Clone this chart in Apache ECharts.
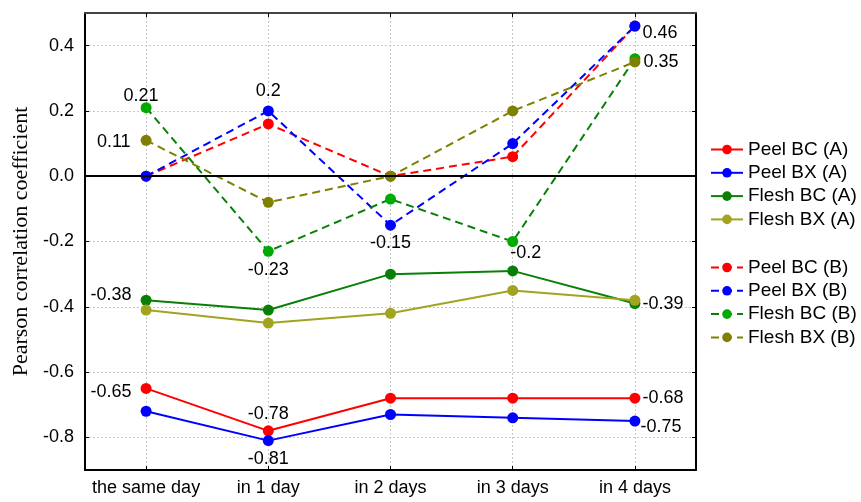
<!DOCTYPE html>
<html>
<head>
<meta charset="utf-8">
<script src="https://cdn.jsdelivr.net/npm/echarts@6/dist/echarts.min.js"></script>
<style>
html, body { margin: 0; padding: 0; background: #fff; }
#chart { width: 861px; height: 502px; }
</style>
</head>
<body>
<div id="chart"></div>
<script>
// Categories and tick values
const days = ['the same day', 'in 1 day', 'in 2 days', 'in 3 days', 'in 4 days'];
const yTicks = [-0.8, -0.6, -0.4, -0.2, 0, 0.2, 0.4];

// Group A (solid lines)
const peelBcA = [-0.65, -0.78, -0.68, -0.68, -0.68];
const peelBxA = [-0.72, -0.81, -0.73, -0.74, -0.75];
const fleshBcA = [-0.38, -0.41, -0.30, -0.29, -0.39];
const fleshBxA = [-0.41, -0.45, -0.42, -0.35, -0.38];

// Group B (dashed lines)
const peelBcB = [0.00, 0.16, 0.00, 0.06, 0.46];
const peelBxB = [0.00, 0.20, -0.15, 0.10, 0.46];
const fleshBcB = [0.21, -0.23, -0.07, -0.20, 0.36];
const fleshBxB = [0.11, -0.08, 0.00, 0.20, 0.35];

const FONT = "'Liberation Sans', Arial, sans-serif";

// Which points carry a value label, and where the label sits
const labelSpots = {
  'Peel BC (A)': { 0: { position: 'left', distance: 9, offset: [0, 4] }, 1: { position: 'top', distance: 2 }, 4: { position: 'right', distance: 2 } },
  'Peel BX (A)': { 1: { position: 'bottom', distance: 4 }, 4: { position: 'right', distance: 0, offset: [0, 6] } },
  'Flesh BC (A)': { 0: { position: 'left', distance: 9, offset: [0, -5] }, 4: { position: 'right', distance: 2, offset: [0, 1] } },
  'Flesh BX (A)': {},
  'Peel BC (B)': {},
  'Peel BX (B)': { 1: { position: 'top', distance: 5 }, 2: { position: 'bottom', distance: 3 }, 4: { position: 'right', distance: 2, offset: [0, 7] } },
  'Flesh BC (B)': { 0: { position: 'top', distance: 3, offset: [-5, 6] }, 1: { position: 'bottom', distance: 4 }, 3: { position: 'bottom', distance: 0, offset: [13, -3] } },
  'Flesh BX (B)': { 0: { position: 'left', distance: 10, offset: [0, 2] }, 4: { position: 'right', distance: 3 } }
};

function fmt(v) {
  return String(Math.round(v * 100) / 100);
}

function makeSeries(name, values, lineColor, dotColor, dashed) {
  const spots = labelSpots[name] || {};
  return {
    name: name,
    type: 'line',
    data: values.map(function (v, i) {
      const spot = spots[i];
      if (!spot) return v;
      return {
        value: v,
        label: Object.assign({
          show: true,
          formatter: fmt(v),
          color: '#000',
          fontFamily: FONT,
          fontSize: 18
        }, spot)
      };
    }),
    symbol: 'circle',
    symbolSize: 11,
    showAllSymbol: true,
    itemStyle: { color: dotColor },
    lineStyle: { color: lineColor, width: 2, type: dashed ? [8, 5] : 'solid' },
    label: { show: false },
    emphasis: { disabled: true },
    animation: false,
    z: 3
  };
}

const series = [
  makeSeries('Peel BC (A)', peelBcA, '#ff0000', '#ff0000', false),
  makeSeries('Peel BX (A)', peelBxA, '#0000ff', '#0000ff', false),
  makeSeries('Flesh BC (A)', fleshBcA, '#088008', '#088008', false),
  makeSeries('Flesh BX (A)', fleshBxA, '#a3a322', '#a3a322', false),
  makeSeries('Peel BC (B)', peelBcB, '#ff0000', '#ff0000', true),
  makeSeries('Peel BX (B)', peelBxB, '#0000ff', '#0000ff', true),
  makeSeries('Flesh BC (B)', fleshBcB, '#0a800a', '#00aa00', true),
  makeSeries('Flesh BX (B)', fleshBxB, '#808000', '#808000', true)
];

// Zero reference line
series[0].markLine = {
  silent: true,
  symbol: 'none',
  label: { show: false },
  lineStyle: { color: '#000', width: 2, type: 'solid' },
  data: [{ yAxis: 0 }],
  animation: false
};

const legendText = { fontFamily: FONT, fontSize: 19, color: '#000' };

const option = {
  backgroundColor: '#fff',
  animation: false,
  grid: { left: 85, top: 13, width: 611, height: 457, containLabel: false },
  legend: [
    {
      data: ['Peel BC (A)', 'Peel BX (A)', 'Flesh BC (A)', 'Flesh BX (A)'],
      orient: 'vertical', left: 705, top: 135,
      itemWidth: 32, itemHeight: 12, itemGap: 4.3,
      textStyle: legendText, selectedMode: false
    },
    {
      data: ['Peel BC (B)', 'Peel BX (B)', 'Flesh BC (B)', 'Flesh BX (B)'],
      orient: 'vertical', left: 705, top: 253,
      itemWidth: 32, itemHeight: 12, itemGap: 4.3,
      textStyle: legendText, selectedMode: false
    }
  ],
  xAxis: [
    {
      type: 'category',
      data: days,
      boundaryGap: true,
      axisLine: { show: true, onZero: false, lineStyle: { color: '#000', width: 2 } },
      axisTick: { show: true, inside: true, alignWithLabel: true, length: 4, lineStyle: { color: '#000' } },
      axisLabel: { interval: 0, color: '#000', fontFamily: FONT, fontSize: 18, margin: 9 },
      splitLine: { show: true, alignWithLabel: true, lineStyle: { color: '#c8c8c8', type: [2, 2], width: 1 } }
    },
    {
      type: 'category',
      data: days,
      position: 'top',
      boundaryGap: true,
      axisLine: { show: true, onZero: false, lineStyle: { color: '#444', width: 2 } },
      axisTick: { show: true, inside: true, alignWithLabel: true, length: 4, lineStyle: { color: '#000' } },
      axisLabel: { show: false },
      splitLine: { show: false }
    }
  ],
  yAxis: [
    {
      type: 'value',
      min: -0.9,
      max: 0.5,
      name: 'Pearson correlation coefficient',
      nameLocation: 'middle',
      nameGap: 52,
      nameTextStyle: { fontFamily: "'Liberation Serif', 'Times New Roman', serif", fontSize: 22, color: '#000' },
      axisLine: { show: true, onZero: false, lineStyle: { color: '#000', width: 2 } },
      axisTick: { show: true, inside: true, length: 4, customValues: yTicks, lineStyle: { color: '#000' } },
      axisLabel: {
        color: '#000', fontFamily: FONT, fontSize: 18, margin: 11,
        customValues: yTicks,
        formatter: function (v) { return v.toFixed(1); }
      },
      splitLine: { show: true, lineStyle: { color: '#c8c8c8', type: [2, 2], width: 1 } }
    },
    {
      type: 'value',
      min: -0.9,
      max: 0.5,
      position: 'right',
      axisLine: { show: true, onZero: false, lineStyle: { color: '#000', width: 2 } },
      axisTick: { show: true, inside: true, length: 4, customValues: yTicks, lineStyle: { color: '#000' } },
      axisLabel: { show: false },
      splitLine: { show: false }
    }
  ],
  series: series
};

const chart = echarts.init(document.getElementById('chart'), null, { renderer: 'canvas' });
chart.setOption(option);
</script>
</body>
</html>
